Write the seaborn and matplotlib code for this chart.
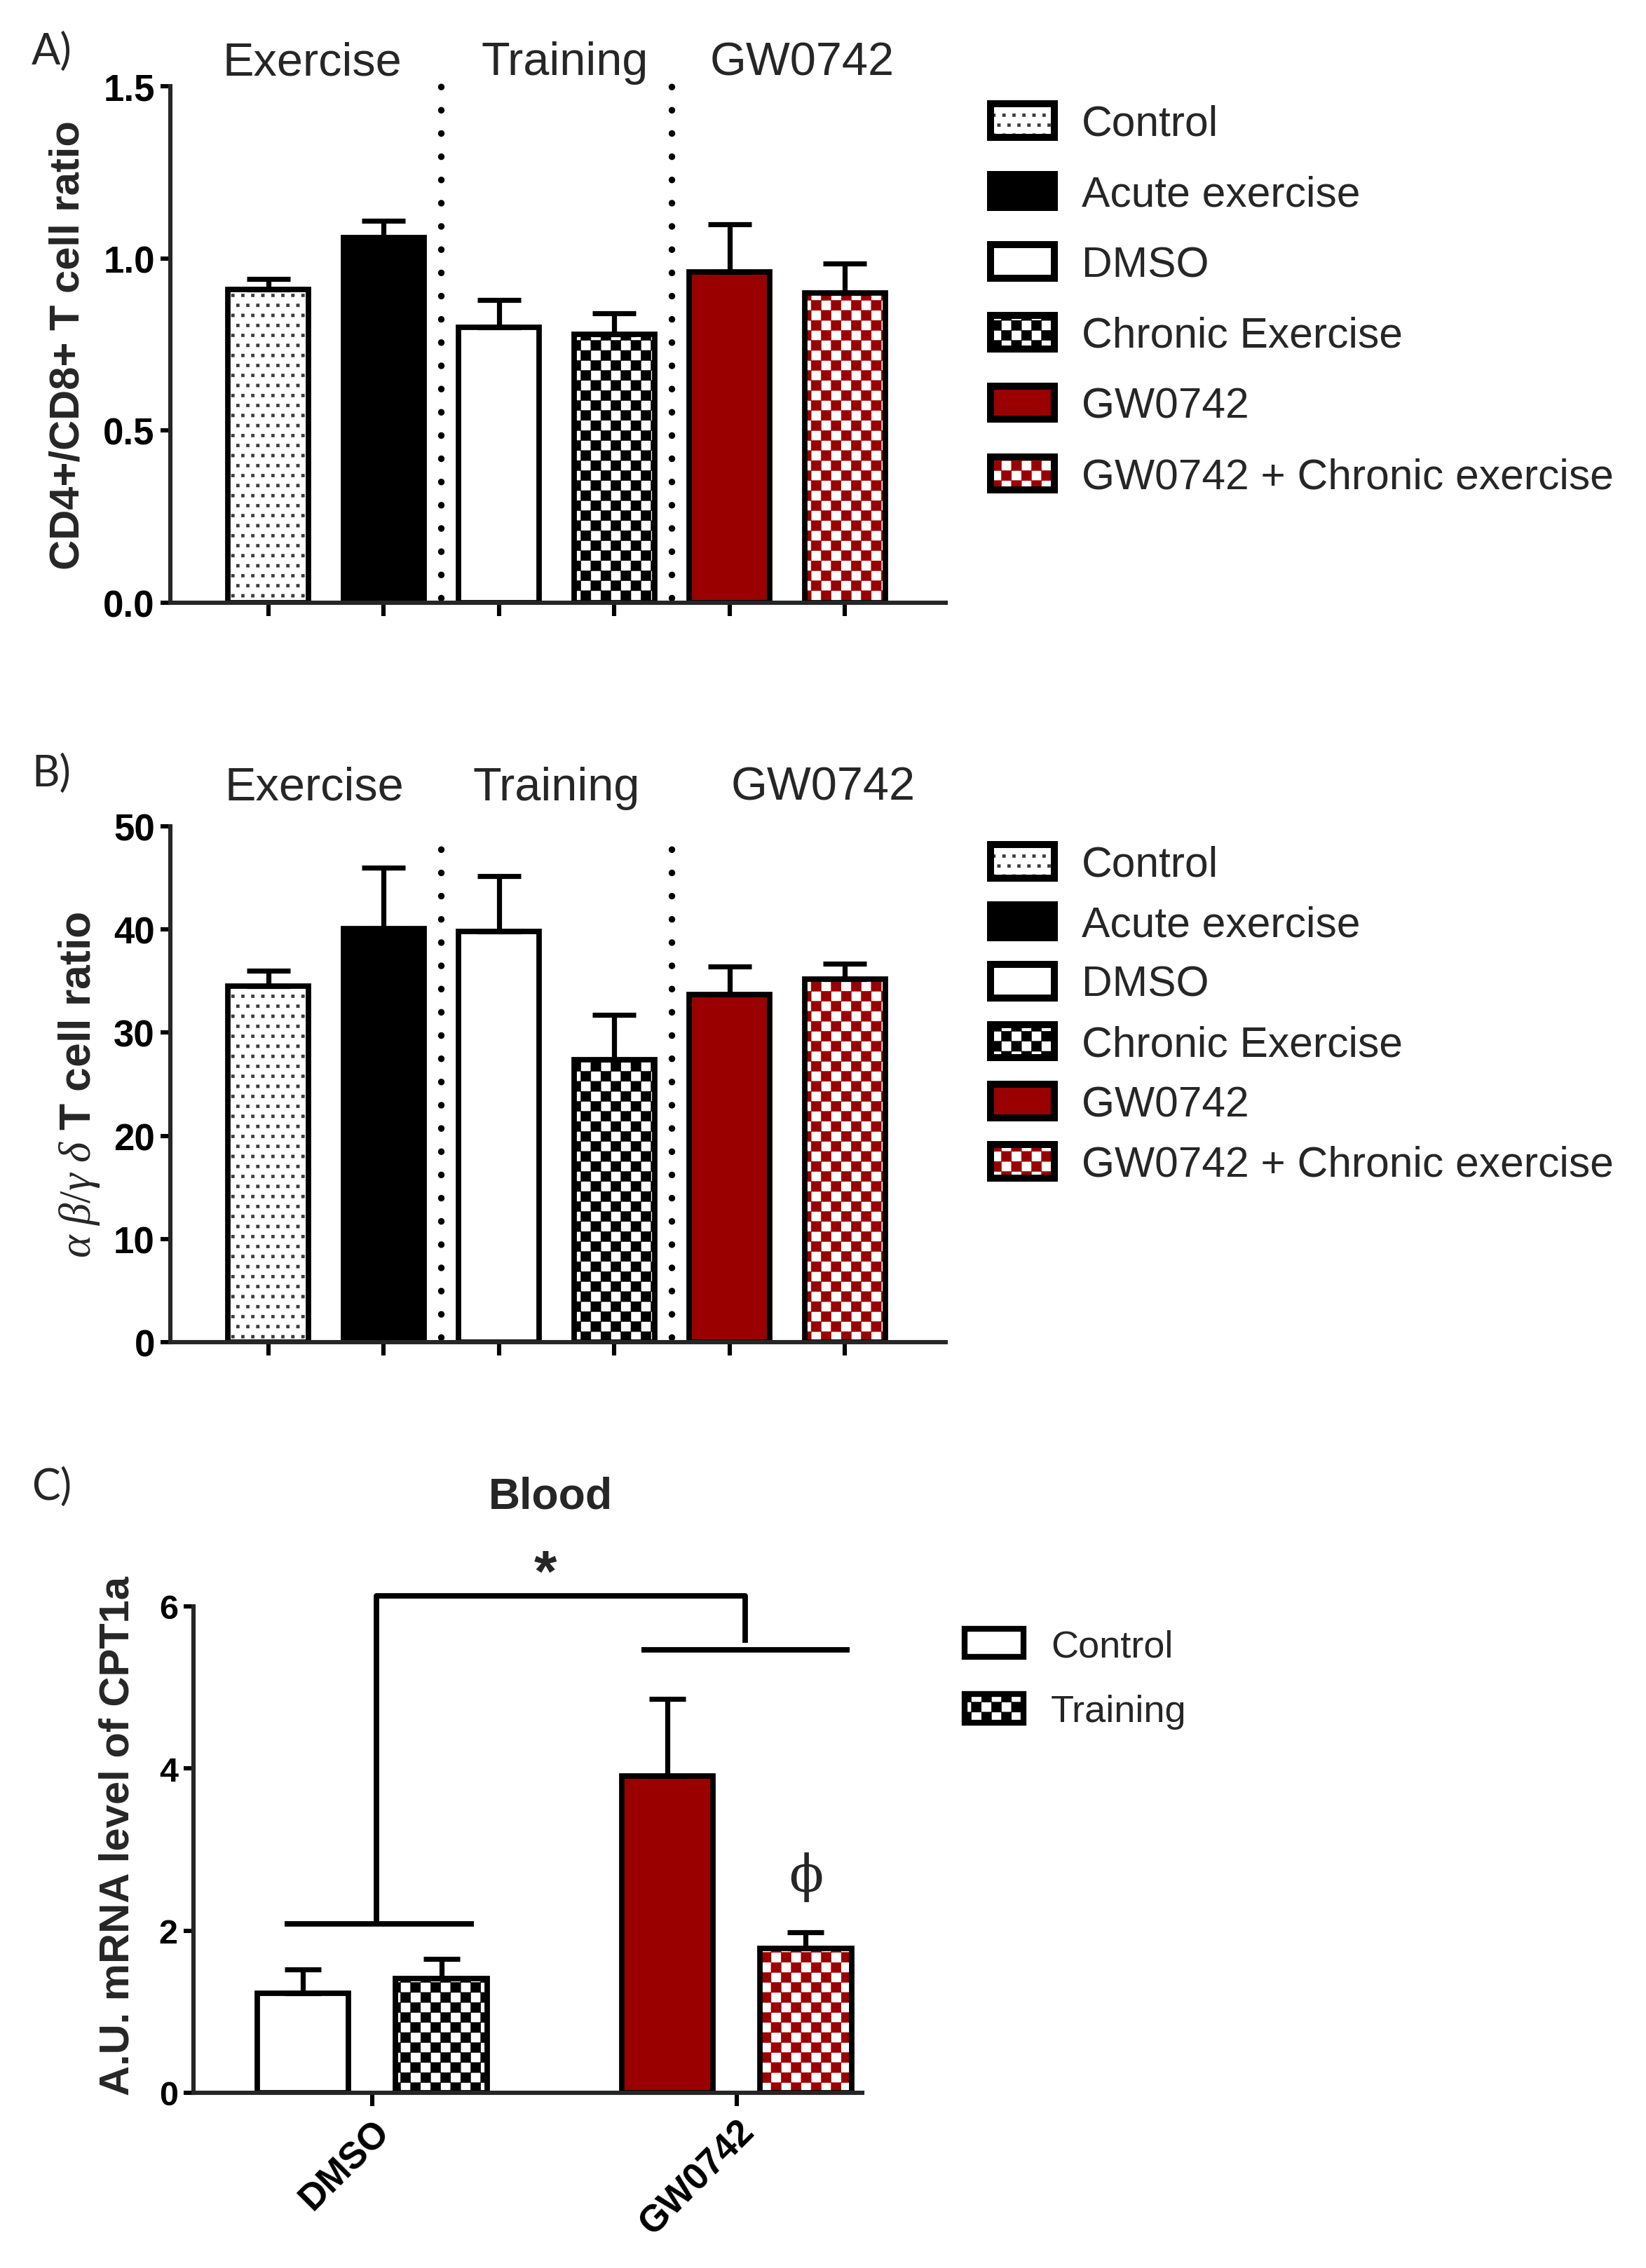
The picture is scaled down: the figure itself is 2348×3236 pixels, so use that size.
import numpy as np
import pandas as pd
import matplotlib
matplotlib.use("Agg")
import matplotlib.pyplot as plt
import matplotlib.hatch as mhatch
from matplotlib.path import Path
from matplotlib.patches import Patch
from matplotlib.colors import to_rgba
import seaborn as sns

# ---------------- data ----------------
groups_ab = ["Control", "Acute exercise", "DMSO", "Chronic Exercise",
             "GW0742", "GW0742 + Chronic exercise"]
section_labels = ["Exercise", "Training", "GW0742"]

cd4_cd8_mean = [0.91, 1.06, 0.80, 0.78, 0.96, 0.90]
cd4_cd8_sem = [0.03, 0.05, 0.08, 0.06, 0.14, 0.085]
ticks_a = [0.0, 0.5, 1.0, 1.5]
ticklabels_a = ["0.0", "0.5", "1.0", "1.5"]

ab_gd_mean = [34.5, 40.1, 39.8, 27.4, 33.7, 35.2]
ab_gd_sem = [1.5, 5.9, 5.4, 4.3, 2.7, 1.5]
ticks_b = [0, 10, 20, 30, 40, 50]
ticklabels_b = ["0", "10", "20", "30", "40", "50"]

treatments_c = ["DMSO", "GW0742"]
conditions_c = ["Control", "Training"]
cpt1a_control_mean = [1.23, 3.91]
cpt1a_control_sem = [0.29, 0.95]
cpt1a_training_mean = [1.41, 1.78]
cpt1a_training_sem = [0.24, 0.20]
ticks_c = [0, 2, 4, 6]
ticklabels_c = ["0", "2", "4", "6"]

# ---------------- style ----------------
RED = "#9A0000"
face_ab = ["white", "black", "white", "white", RED, "white"]
hatch_ab = ["o", None, None, "O", None, "O"]
hatchcol_ab = ["#3a3a3a", "black", "black", "black", "black", RED]


# custom hatches: 'O' -> checkerboard, 'o' -> fine staggered dots
class CheckerHatch(mhatch.HatchPatternBase):
    def __init__(self, hatch, density):
        n = 14 * hatch.count("O")
        self.n = n
        self.cells = [(i, j) for i in range(n) for j in range(n) if (i + j) % 2 == 0]
        self.num_vertices = 5 * len(self.cells)

    def set_vertices_and_codes(self, vertices, codes):
        s = 1.0 / self.n
        k = 0
        for i, j in self.cells:
            x0, y0 = i * s, j * s
            vertices[k:k + 5] = [(x0, y0), (x0 + s, y0), (x0 + s, y0 + s),
                                 (x0, y0 + s), (x0, y0)]
            codes[k:k + 5] = [Path.MOVETO, Path.LINETO, Path.LINETO,
                              Path.LINETO, Path.CLOSEPOLY]
            k += 5


class DotHatch(mhatch.HatchPatternBase):
    def __init__(self, hatch, density):
        n = 14 * hatch.count("o")
        self.n = n
        self.pts = []
        for r in range(n):
            off = 0.5 if r % 2 else 0.0
            for c in range(n):
                self.pts.append(((c + off + 0.25) / n, (r + 0.5) / n))
        self.num_vertices = 5 * len(self.pts)

    def set_vertices_and_codes(self, vertices, codes):
        h = 0.0105
        k = 0
        for x, y in self.pts:
            vertices[k:k + 5] = [(x - h, y - h), (x + h, y - h), (x + h, y + h),
                                 (x - h, y + h), (x - h, y - h)]
            codes[k:k + 5] = [Path.MOVETO, Path.LINETO, Path.LINETO,
                              Path.LINETO, Path.CLOSEPOLY]
            k += 5


mhatch._hatch_types = [t for t in mhatch._hatch_types
                       if t.__name__ not in ("SmallCircles", "LargeCircles")]
mhatch._hatch_types += [CheckerHatch, DotHatch]


def set_hatch_color(p, c):
    if hasattr(p, "set_hatchcolor"):
        p.set_hatchcolor(c)
    else:
        p._hatch_color = to_rgba(c)


sns.set_style("ticks")
plt.rcParams["font.family"] = ["Liberation Sans", "DejaVu Sans"]
plt.rcParams["hatch.linewidth"] = 0.2
plt.rcParams["mathtext.fontset"] = "custom"
plt.rcParams["mathtext.rm"] = "Liberation Serif"
plt.rcParams["mathtext.it"] = "Liberation Serif:italic"
plt.rcParams["mathtext.bf"] = "Liberation Serif:bold"

W, H = 2348, 3237
fig = plt.figure(figsize=(W / 200, H / 200), dpi=200)

EDGE_LW = 2.8
SPINE_LW = 2.2


def fx(px):
    return px / W


def fy(py):
    return 1 - py / H


def style_axes(ax, ticks, labels, size):
    sns.despine(ax=ax)
    for s in ["left", "bottom"]:
        ax.spines[s].set_linewidth(SPINE_LW)
    ax.set_yticks(ticks)
    ax.set_yticklabels(labels, fontweight="bold", fontsize=size)
    ax.tick_params(axis="y", length=5, width=SPINE_LW, pad=3, colors="black")
    ax.tick_params(axis="x", length=7, width=SPINE_LW, colors="black")
    ax.set_xlabel("")


def panel_ab(ax, means, sems, ticks, labels, ylim, ylabel, ylab_size, sep_top, lab_y,
             lab_x, ylab_x, legend_top, spacing):
    sns.barplot(x=groups_ab, y=means, hue=groups_ab, palette=face_ab, legend=False,
                width=0.7, edgecolor="black", linewidth=EDGE_LW, errorbar=None,
                saturation=1, ax=ax, zorder=2)
    bars = list(ax.patches)
    for p, h, hc in zip(bars, hatch_ab, hatchcol_ab):
        p.set_edgecolor("black")
        if h:
            p.set_hatch(h)
        set_hatch_color(p, hc)
    xs = [p.get_x() + p.get_width() / 2 for p in bars]
    ax.errorbar(xs, means, yerr=[np.zeros(len(sems)), sems], fmt="none",
                ecolor="black", elinewidth=2.6, capsize=11, capthick=2.6, zorder=3)
    ax.set_xlim(-0.85, 5.875)
    ax.set_ylim(*ylim)
    style_axes(ax, ticks, labels, 19)
    ax.set_xticks(xs)
    ax.set_xticklabels([])
    ax.set_ylabel(ylabel, fontsize=ylab_size, fontweight="bold")
    ax.yaxis.label.set_va("center")
    ax.yaxis.set_label_coords(ylab_x, 0.5)
    # dotted separators between sections
    for a, b, top in zip([1, 3], [2, 4], sep_top):
        xm = (xs[a] + xs[b]) / 2
        ax.plot([xm, xm], [ylim[0] + 0.01 * ylim[1], top], color="black", lw=3.4,
                linestyle=(0, (0.01, 3.5)), dash_capstyle="round", clip_on=False,
                zorder=1)
    for t, x in zip(section_labels, lab_x):
        ax.text(x, lab_y, t, transform=ax.get_xaxis_transform(), ha="center",
                va="center", fontsize=24)
    handles = []
    for fc, h, hc in zip(face_ab, hatch_ab, hatchcol_ab):
        p = Patch(facecolor=fc, edgecolor="black", hatch=h, linewidth=3.6)
        set_hatch_color(p, hc)
        handles.append(p)
    ax.legend(handles, groups_ab, loc="upper left",
              bbox_to_anchor=(fx(1413), legend_top), bbox_transform=fig.transFigure,
              frameon=False, fontsize=21.8, handlelength=1.5, handleheight=0.83,
              handletextpad=0.64, labelspacing=spacing,
              borderpad=0, borderaxespad=0)


# ---------------- panel A ----------------
axA = fig.add_axes([fx(243), fy(861), 1106 / W, 737 / H])
panel_ab(axA, cd4_cd8_mean, cd4_cd8_sem, ticks_a, ticklabels_a, (0, 1.5),
         "CD4+/CD8+ T cell ratio", 21.5, [1.54, 1.51], 1.046, [0.38, 2.57, 4.63],
         -0.132, fy(149), 0.71)
fig.text(fx(45), fy(74), "A)", fontsize=22, ha="left", va="center", family=["Lato", "DejaVu Sans"])

# ---------------- panel B ----------------
axB = fig.add_axes([fx(243), fy(1916), 1106 / W, 736 / H])
panel_ab(axB, ab_gd_mean, ab_gd_sem, ticks_b, ticklabels_b, (0, 50),
         r"$\alpha\ \beta/\gamma\ \delta$ T cell ratio", 22.5, [49.3, 48.6], 1.075,
         [0.40, 2.50, 4.81], -0.1175, fy(1206), 0.46)
fig.text(fx(45), fy(1104), "B)", fontsize=22, ha="left", va="center", family=["Lato", "DejaVu Sans"])

# ---------------- panel C ----------------
axC = fig.add_axes([fx(276), fy(2987), 954 / W, 694 / H])
df_c = pd.DataFrame({
    "treatment": treatments_c * 2,
    "condition": [conditions_c[0]] * 2 + [conditions_c[1]] * 2,
    "value": cpt1a_control_mean + cpt1a_training_mean,
})
sns.barplot(data=df_c, x="treatment", y="value", hue="condition", order=treatments_c,
            hue_order=conditions_c, palette=["white", "white"], width=0.76, gap=0.34,
            edgecolor="black", linewidth=EDGE_LW, errorbar=None, saturation=1,
            legend=False, ax=axC, zorder=2)
cont_ctrl, cont_train = axC.containers[0], axC.containers[1]
cont_ctrl[1].set_facecolor(RED)
for p, hc in zip(cont_train, ["black", RED]):
    p.set_hatch("O")
    set_hatch_color(p, hc)
for cont, m, s in [(cont_ctrl, cpt1a_control_mean, cpt1a_control_sem),
                   (cont_train, cpt1a_training_mean, cpt1a_training_sem)]:
    xs = [p.get_x() + p.get_width() / 2 for p in cont]
    axC.errorbar(xs, m, yerr=[np.zeros(len(s)), s], fmt="none", ecolor="black",
                 elinewidth=2.6, capsize=9.5, capthick=2.6, zorder=3)
axC.set_xlim(-0.49, 1.345)
axC.set_ylim(0, 6)
style_axes(axC, ticks_c, ticklabels_c, 17.5)
axC.set_xticks([0, 1])
axC.set_xticklabels(treatments_c, rotation=45, ha="right", rotation_mode="anchor",
                    fontweight="bold", fontsize=19)
axC.set_ylabel("A.U. mRNA level of CPT1a", fontsize=21.5, fontweight="bold")
axC.yaxis.label.set_va("center")
axC.yaxis.set_label_coords(-0.113, 0.53)

# significance bracket
bk = dict(color="black", lw=2.8, clip_on=False, solid_capstyle="butt")
axC.plot([-0.24, 0.28], [2.08, 2.08], **bk)
axC.plot([0.74, 1.31], [5.46, 5.46], **bk)
axC.plot([0.012, 0.012, 1.024, 1.024], [2.08, 6.13, 6.13, 5.55], **bk)
axC.text(0.476, 6.38, "*", ha="center", va="center", fontsize=30, fontweight="bold")
axC.text(0.49, 7.36, "Blood", ha="center", va="center", fontsize=22.5, fontweight="bold")
axC.text(1.19, 2.67, "\u03d5", ha="center", va="center", fontsize=26,
         family=["DejaVu Serif", "Liberation Serif"])

handles_c = [Patch(facecolor="white", edgecolor="black", linewidth=3.0),
             Patch(facecolor="white", edgecolor="black", hatch="O", linewidth=3.0)]
axC.legend(handles_c, conditions_c, loc="upper left",
           bbox_to_anchor=(fx(1376), fy(2325)), bbox_transform=fig.transFigure,
           frameon=False, fontsize=19.5, handlelength=1.55, handleheight=0.77,
           handletextpad=0.72, labelspacing=0.8, borderpad=0, borderaxespad=0)
fig.text(fx(45), fy(2122), "C)", fontsize=22, ha="left", va="center", family=["Lato", "DejaVu Sans"])

fig.savefig("out.png", dpi=200, facecolor="white")
